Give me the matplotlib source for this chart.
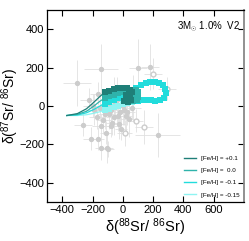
import matplotlib
matplotlib.use("Agg")
import matplotlib.pyplot as plt
import numpy as np

plt.rcParams['font.family'] = ['Liberation Sans', 'DejaVu Sans']
plt.rcParams['mathtext.fontset'] = 'custom'
plt.rcParams['mathtext.rm'] = 'Liberation Sans'
plt.rcParams['mathtext.it'] = 'Liberation Sans:italic'

# grain measurements (filled grey)
grain_x = [-144, -302, 177, 98, -223, -164, -262, -210, -164, -144, -105, -144, -79, -26, -72, -98, 230,
           -190, -120, -60, -20, 20, 60, -100, -40, 0, 40, -170, -130, -90, -50, 10, -10, -110, 70, -200,
           -150, -80, -30, 30, -60]
grain_y = [193, 118, 204, 198, 31, 63, -99, -172, -172, -219, -219, -104, -104, -94, -89, -225, -151,
           -20, -40, -60, -30, -50, -10, 10, 30, 0, -70, -60, -75, -40, 15, -20, -120, -140, 40, 0,
           -10, -20, -50, -30, 50]
grain_xerr = [110, 90, 60, 60, 60, 50, 60, 50, 40, 40, 40, 60, 50, 40, 40, 40, 150,
              60, 50, 50, 40, 40, 60, 50, 40, 40, 60, 50, 50, 40, 40, 40, 40, 40, 50, 60,
              40, 50, 40, 50, 40]
grain_yerr = [130, 120, 120, 150, 60, 60, 60, 60, 60, 60, 80, 60, 60, 80, 60, 40, 115,
              80, 80, 90, 80, 100, 60, 60, 120, 100, 90, 60, 70, 80, 90, 80, 60, 60, 120, 60,
              70, 90, 80, 70, 100]
# open symbols
open_x = [197, 289, 138, 13, 85]
open_y = [167, 89, -110, -141, -78]
open_xerr = [60, 60, 60, 50, 50]
open_yerr = [80, 60, 90, 70, 60]

# model tracks
feh_labels = ['[Fe/H] = +0.1', '[Fe/H] =  0.0', '[Fe/H] = -0.1', '[Fe/H] = -0.15']
colors = ['#1f7f78', '#2fb3ab', '#22dcdc', '#8ff4f2']
t1_x = [-370, -300, -240, -190, -150, -120, -90, -60, -30, 0, 25, 50, 60, 40, 20, 45, 55, 35, 10]
t1_y = [-50, -40, -15, 20, 50, 70, 80, 88, 93, 95, 92, 85, 70, 60, 55, 45, 30, 22, 25]
t2_x = [-370, -300, -240, -190, -150, -120, -90, -60, -30, 0, 30, 60, 85, 100, 85, 100, 95, 70, 45]
t2_y = [-50, -44, -28, 0, 25, 40, 50, 58, 66, 74, 80, 85, 85, 72, 58, 45, 30, 25, 27]
t3_x = [-370, -300, -240, -190, -150, -120, -90, -60, -30, 0, 30, 60, 90, 120, 150, 180, 210, 240, 265, 280, 282,
        270, 245, 215, 185, 155, 125, 100]
t3_y = [-50, -47, -36, -18, 0, 12, 22, 32, 42, 52, 62, 75, 92, 108, 118, 122, 122, 118, 108, 90, 65,
        42, 30, 28, 30, 30, 30, 28]
t4_x = [-370, -300, -240, -190, -150, -120, -90, -60, -30, 0, 30, 60, 90]
t4_y = [-50, -50, -46, -38, -30, -22, -15, -8, 0, 8, 16, 22, 26]
tracks_x = [t1_x, t2_x, t3_x, t4_x]
tracks_y = [t1_y, t2_y, t3_y, t4_y]
line_pts = 5

fig = plt.figure(figsize=(2.49, 2.41), dpi=100)
ax = fig.add_axes([0.189, 0.162, 0.791, 0.797])

ax.errorbar(grain_x, grain_y, xerr=grain_xerr, yerr=grain_yerr, fmt='o', ms=2.8,
            color='#cccccc', ecolor='#e0e0e0', elinewidth=0.6, capsize=0, zorder=1)
ax.errorbar(open_x, open_y, xerr=open_xerr, yerr=open_yerr, fmt='o', ms=3.5,
            mfc='white', mec='#cccccc', ecolor='#e0e0e0', elinewidth=0.6, capsize=0, zorder=1)

for i in [3, 2, 1, 0]:
    tx, ty = tracks_x[i], tracks_y[i]
    ax.plot(tx, ty, color=colors[i], lw=0.9, zorder=2 + (3 - i))
    ax.plot(tx[line_pts:], ty[line_pts:], 's', color=colors[i], ms=3.8, mew=0,
            zorder=2 + (3 - i))

handles = [plt.Line2D([], [], color=c, lw=1.0) for c in colors]
ax.legend(handles, feh_labels, loc='lower right', fontsize=4.5, frameon=False,
          handlelength=2.0, labelspacing=1.1, borderaxespad=0.3)

ax.text(0.98, 0.875, r'3M$_{\odot}$ 1.0%  V2', transform=ax.transAxes, ha='right', va='bottom', fontsize=7)

ax.set_xlim(-500, 800)
ax.set_ylim(-500, 500)
ax.set_xticks([-400, -200, 0, 200, 400, 600])
ax.set_yticks([-400, -200, 0, 200, 400])
ax.set_xticklabels(['\u2212400', '\u2212200', '0', '200', '400', '600'])
ax.set_yticklabels(['\u2212400', '\u2212200', '0', '200', '400'])
ax.tick_params(direction='in', top=True, right=True, length=4, width=0.8, labelsize=8, pad=2)
for s in ax.spines.values():
    s.set_linewidth(0.9)
ax.spines['right'].set_color('#888888')
ax.spines['right'].set_linewidth(1.3)

ax.set_xlabel(r'$\mathrm{\delta(^{88}Sr/\ ^{86}Sr)}$', fontsize=10.5, labelpad=1)
ax.set_ylabel(r'$\mathrm{\delta(^{87}Sr/\ ^{86}Sr)}$', fontsize=10)
ax.yaxis.set_label_coords(-0.13, 0.5)

fig.savefig('out.png', dpi=100)
